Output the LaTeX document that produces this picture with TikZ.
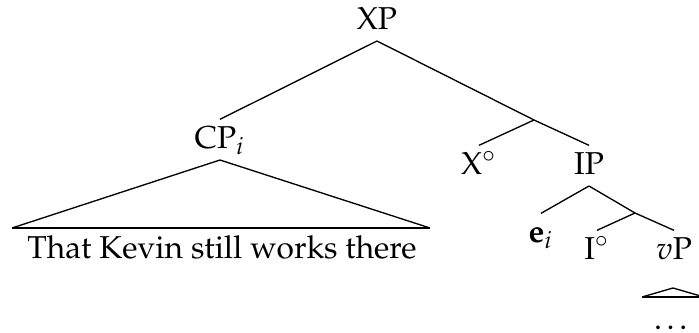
\documentclass[tikz,border=0pt]{standalone}
\usepackage[T1]{fontenc}
\usepackage{mathpazo}
\begin{document}
\begin{tikzpicture}[x=0.3pt,y=-0.3pt,
  lbl/.style={inner xsep=0pt,inner ysep=1.4pt,text height=7pt,text depth=2pt,anchor=base,font=\fontsize{9.5}{11.5}\selectfont},
  branch/.style={line width=0.4pt},
  tribase/.style={line width=0.75pt},
  ]
\useasboundingbox (0,0) rectangle (699,332);
% labels
\node[lbl] (XP) at (377,29) {XP};
\node[lbl] (CP) at (220,148) {CP$_i$};
\node[lbl] (Xo) at (479,174) {X$^\circ$};
\node[lbl] (IP) at (589,174) {IP};
\node[lbl] (ei) at (541,242) {\textbf{e}$_i$};
\node[lbl] (Io) at (597,259) {I$^\circ$};
\node[lbl] (vP) at (674,259) {$v$P};
\node[lbl] (sent) at (222,258) {That Kevin still works there};
\node[lbl] (dots) at (673,329) {\dots};
% branch points
\coordinate (xbar) at (534,120);
\coordinate (ibar) at (635,213);
% triangle corners
\coordinate (cpL) at (12,228);
\coordinate (cpR) at (430,228);
\coordinate (vpA) at (673,288);
\coordinate (vpL) at (642,297);
\coordinate (vpR) at (704,297);
% branches
\draw[branch] (XP.south) -- (CP.north);
\draw[branch] (XP.south) -- (xbar) -- (IP.north);
\draw[branch] (xbar) -- (Xo.north);
\draw[branch] (IP.south) -- (ei.north);
\draw[branch] (IP.south) -- (ibar) -- (vP.north);
\draw[branch] (ibar) -- (Io.north);
% triangles
\draw[branch] (cpL) -- (CP.south) -- (cpR);
\draw[tribase] (cpL) -- (cpR);
\draw[branch] (vpL) -- (vpA) -- (vpR);
\draw[tribase] (vpL) -- (vpR);
\end{tikzpicture}
\end{document}
